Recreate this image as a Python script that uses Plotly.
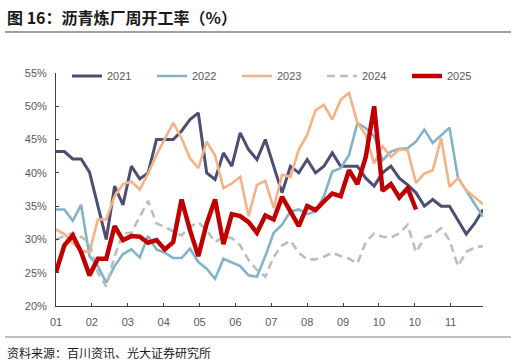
import plotly.graph_objects as go

W, H = 516, 364
ML, MR, MT, MB = 56, 33, 73, 58

tick_labels = ["01", "02", "03", "04", "05", "06", "07", "08", "09", "10", "10", "11"]

y2021 = [43.2, 43.2, 42.1, 42.1, 40.1, 35, 30, 38, 35.2, 41, 39.1, 40, 45, 45, 45, 46.3, 48, 49,
         40, 39, 43, 41, 46, 43.5, 42, 45, 41, 37, 41, 40, 42, 40, 41, 43, 41, 41, 41, 39.2, 38,
         40, 41, 39.2, 38.2, 37, 35, 36, 35, 35, 33, 30.8, 32.4, 34.5]
y2022 = [34.5, 34.5, 32.8, 35.2, 27.5, 26, 23.5, 26, 27.8, 28.5, 27.3, 30.5, 28.5, 28, 27.2, 27.2,
         28.6, 26.6, 25.6, 24.1, 27.1, 26.6, 26, 24.6, 24.4, 27.5, 31, 32.2, 34.2, 34.5, 33.8, 34.2,
         36.5, 40.2, 40.7, 42.7, 47.5, 46.7, 45.5, 41.9, 43.2, 43.6, 43.7, 44.7, 46.5, 44.5, 45.7,
         46.8, 39.3, 37.4, 35.4, 33.4]
y2023 = [31.5, 30.8, 29.5, 28.3, 28.1, 33, 33, 36.5, 38.3, 38.7, 37.5, 39.9, 42.7, 45, 47.5, 45.2,
         42.2, 40.7, 44.7, 42.6, 37.7, 38.4, 39.4, 33.5, 38.2, 38.8, 34.7, 39.7, 39.4, 43.5, 45.7,
         49.4, 50.2, 48, 51, 52, 47.5, 45.7, 41.4, 44, 42.4, 43.5, 43.4, 38.5, 39.9, 40.4, 45.2,
         37.9, 39.2, 37.4, 36.3, 35.3]
y2024 = [30, 30.5, 31, 30.4, 29.5, 25, 22.9, 27.5, 30.9, 31, 33.5, 35.8, 32.4, 31.9, 31.2, 30.6,
         31.9, 32.6, 31.4, 29.6, 30.4, 30.2, 29.1, 26.9, 25.4, 24.4, 27.4, 29.1, 29.8, 28, 27, 27,
         27.4, 28, 27.5, 27.1, 26.4, 29.6, 30.9, 30.4, 30.3, 30.9, 32.2, 28.1, 30.2, 30.7, 31.7,
         29.9, 26, 28.1, 28.8, 29]
y2025 = [25.1, 29.1, 30.6, 28.1, 24.6, 27.1, 27.1, 32, 29.9, 30.5, 30.4, 29.5, 29.9, 28.5, 29.6,
         36, 31.4, 27.5, 32.4, 36, 29.3, 33.8, 33.5, 32.6, 31, 33.6, 33, 36.4, 34.2, 32, 35, 34.4,
         35.7, 36.9, 36.5, 40.4, 38.3, 42.4, 50, 37.3, 38.3, 36.3, 37.7, 34.5]

series = [
    ("2021", y2021, "#4e4e72", 3, "solid"),
    ("2022", y2022, "#84b2c8", 2.6, "solid"),
    ("2023", y2023, "#f5b286", 2.6, "solid"),
    ("2024", y2024, "#bdbdbd", 2.6, "8px,5px"),
    ("2025", y2025, "#c00000", 4.5, "solid"),
]

fig = go.Figure()
for name, ys, color, width, dash in series:
    fig.add_trace(go.Scatter(
        x=list(range(len(ys))), y=ys, name=name, mode="lines",
        line=dict(color=color, width=width, dash=dash),
    ))

pw = W - ML - MR
ph = H - MT - MB


def px(x):
    return (x - ML) / pw


def py(y):
    return 1 - (y - MT) / ph


tickvals = [k * 30 / 7 for k in range(len(tick_labels))]

fig.update_layout(
    width=W, height=H,
    margin=dict(l=ML, r=MR, t=MT, b=MB),
    paper_bgcolor="white", plot_bgcolor="white",
    font=dict(family="Liberation Sans, Arial, sans-serif", size=11, color="#595959"),
    showlegend=True,
    legend=dict(
        orientation="h", x=px(67), y=py(76), xanchor="left", yanchor="middle",
        bgcolor="rgba(0,0,0,0)", font=dict(size=11, color="#595959"),
        entrywidth=40, entrywidthmode="pixels", itemwidth=30, tracegroupgap=0,
    ),
    xaxis=dict(
        range=[0, 51], tickvals=tickvals, ticktext=tick_labels,
        showline=True, linecolor="#404040", linewidth=1,
        ticks="inside", ticklen=3, tickcolor="#404040",
        showgrid=False, zeroline=False, ticklabelstandoff=6,
    ),
    yaxis=dict(
        range=[20, 55], dtick=5, ticksuffix="%",
        showline=True, linecolor="#404040", linewidth=1,
        ticks="inside", ticklen=3, tickcolor="#404040",
        showgrid=False, zeroline=False, ticklabelstandoff=6,
    ),
    annotations=[
        dict(text="<b>图 16：沥青炼厂周开工率（%）</b>", x=px(5), y=py(17), xref="paper", yref="paper",
             xanchor="left", yanchor="middle", showarrow=False,
             font=dict(family="Noto Sans CJK SC", size=16, color="#1a1a1a")),
        dict(text="资料来源：百川资讯、光大证券研究所", x=px(5), y=py(352), xref="paper", yref="paper",
             xanchor="left", yanchor="middle", showarrow=False,
             font=dict(family="Noto Sans CJK SC", size=12, color="#1a1a1a")),
    ],
    shapes=[
        dict(type="line", xref="paper", yref="paper", x0=px(5), x1=px(511), y0=py(32), y1=py(32),
             line=dict(color="#808080", width=1.5)),
        dict(type="line", xref="paper", yref="paper", x0=px(5), x1=px(511), y0=py(337), y1=py(337),
             line=dict(color="#808080", width=1)),
    ],
)

fig.write_html("out.html", config={"displayModeBar": False},
               post_script="document.body.style.margin='0';document.body.style.padding='0';")
